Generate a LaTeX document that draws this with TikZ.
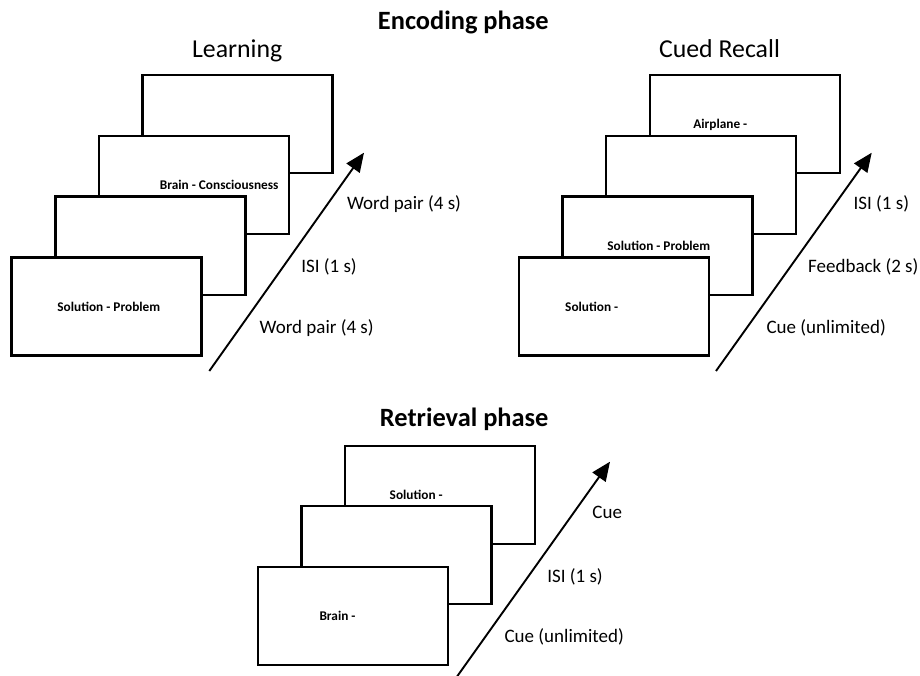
\documentclass[tikz,border=0pt]{standalone}
\usepackage{fontspec}
\setmainfont{Carlito}
\usetikzlibrary{arrows.meta}
\begin{document}
\begin{tikzpicture}[x=1pt,y=-1pt,
  card/.style={draw=black,line width=2.6pt,fill=white,minimum width=190pt,minimum height=98pt,inner sep=0pt},
  wordtxt/.style={anchor=base,inner sep=0pt,font=\fontsize{13.3}{15}\selectfont\bfseries},
  lbl/.style={anchor=base,inner sep=0pt,font=\fontsize{19}{21}\selectfont},
  sub/.style={anchor=base,inner sep=0pt,font=\fontsize{25.8}{28}\selectfont},
  phase/.style={anchor=base,inner sep=0pt,font=\fontsize{26.4}{29}\selectfont\bfseries},
  timeline/.style={line width=1.9pt,-{Triangle[length=19pt,width=16pt]}}]
\useasboundingbox (0,0) rectangle (920,676);
% headings
\node[phase] (enc) at (463.3,30) {Encoding phase};
\node[sub] (learn) at (237.2,57.7) {Learning};
\node[sub] (cued) at (719.5,57.7) {Cued Recall};
\node[phase] (retr) at (464.2,426.7) {Retrieval phase};
% Learning
\node[card] (L4) at (237.5,124.2) {};
\node[card] (L3) at (193.8,185) {};
\node[wordtxt] (L3t) at (219.2,190) {Brain - Consciousness};
\node[card] (L2) at (150.3,245.8) {};
\node[card] (L1) at (106.7,306.5) {};
\node[wordtxt] (L1t) at (108.8,311.7) {Solution - Problem};
\coordinate (La) at (209.3,371);
\coordinate (Lb) at (364,152.7);
\draw[timeline] (La) -- (Lb);
\node[lbl] (Ll3) at (404,210) {Word pair (4 s)};
\node[lbl] (Ll2) at (329,272) {ISI (1 s)};
\node[lbl] (Ll1) at (316.7,333.3) {Word pair (4 s)};
% Cued Recall
\node[card] (C4) at (745,124.2) {};
\node[wordtxt] (C4t) at (720.3,129) {Airplane -};
\node[card] (C3) at (700.8,185) {};
\node[card] (C2) at (657.7,245.8) {};
\node[wordtxt] (C2t) at (658.8,250.7) {Solution - Problem};
\node[card] (C1) at (614,306.5) {};
\node[wordtxt] (C1t) at (591.7,311.7) {Solution -};
\coordinate (Ca) at (716,371);
\coordinate (Cb) at (871.7,152.7);
\draw[timeline] (Ca) -- (Cb);
\node[lbl] (Cl3) at (881.3,210) {ISI (1 s)};
\node[lbl] (Cl2) at (863.3,272) {Feedback (2 s)};
\node[lbl] (Cl1) at (826.2,333.3) {Cue (unlimited)};
% Retrieval
\node[card] (R3) at (440,494.8) {};
\node[wordtxt] (R3t) at (416.2,499) {Solution -};
\node[card] (R2) at (396.2,555) {};
\node[card] (R1) at (352.8,615.8) {};
\node[wordtxt] (R1t) at (337.5,620.7) {Brain -};
\coordinate (Ra) at (456.7,677);
\coordinate (Rb) at (610,461.7);
\draw[timeline] (Ra) -- (Rb);
\node[lbl] (Rl3) at (607.2,518.3) {Cue};
\node[lbl] (Rl2) at (575,582.3) {ISI (1 s)};
\node[lbl] (Rl1) at (564.2,642.7) {Cue (unlimited)};
\end{tikzpicture}
\end{document}
